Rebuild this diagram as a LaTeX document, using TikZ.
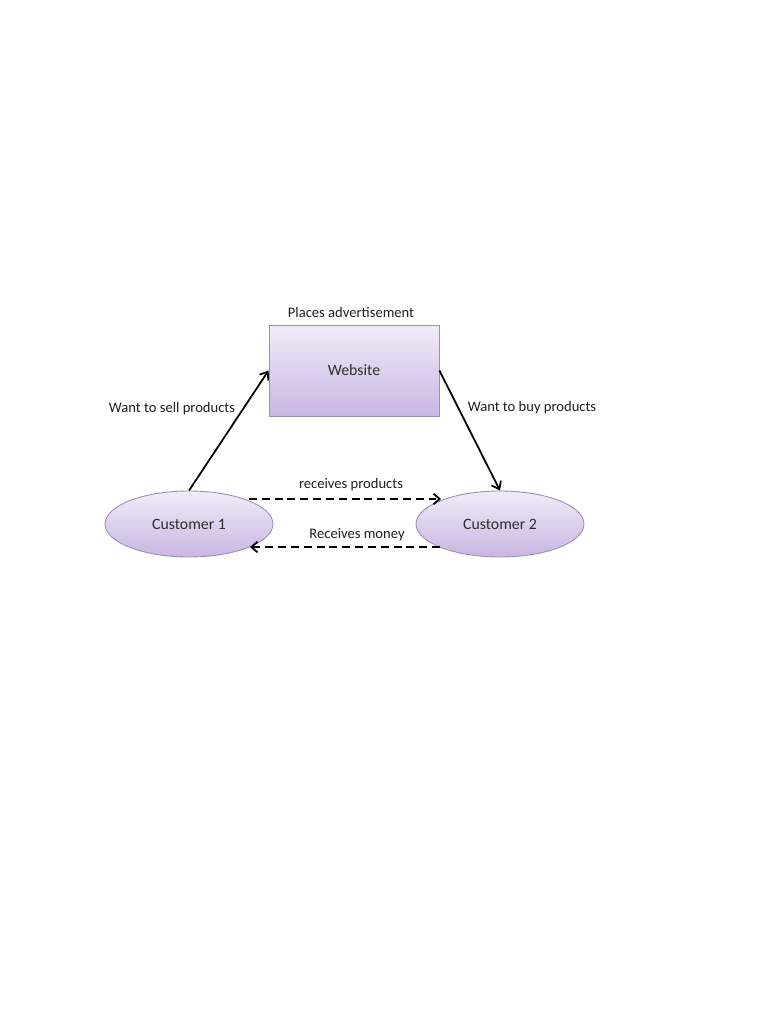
\documentclass[tikz,border=0pt]{standalone}
\usepackage{fontspec}
\setmainfont{Carlito}
\usetikzlibrary{arrows.meta,shapes.geometric}
\definecolor{edgepurple}{HTML}{9D8EB5}
\definecolor{fillTop}{HTML}{F1ECF8}
\definecolor{fillBot}{HTML}{C8B6E2}
\tikzset{
  lbl/.style={font=\fontsize{8.3}{10}\selectfont, text=black!88, inner sep=0pt},
  sitebox/.style={draw=edgepurple, line width=0.5pt, top color=fillTop, bottom color=fillBot,
    minimum width=3.4cm, minimum height=1.82cm, font=\fontsize{9}{11}\selectfont, text=black!82},
  custell/.style={ellipse, draw=edgepurple, line width=0.5pt, top color=fillTop, bottom color=fillBot,
    minimum width=3.36cm, minimum height=1.32cm, inner sep=0pt, font=\fontsize{9}{11}\selectfont, text=black!82},
  solidarrow/.style={line width=1pt, -{Straight Barb[length=4pt,width=6pt,line width=1pt]}},
  dasharrow/.style={line width=1.1pt, dash pattern=on 4.5pt off 2.8pt, -{Straight Barb[length=3.5pt,width=6pt,line width=1pt]}}
}
\begin{document}
\begin{tikzpicture}[x=0.02cm,y=-0.02cm]
\useasboundingbox (0,0) rectangle (768,1024);
\fill[white] (0,0) rectangle (768,1024);
\node[sitebox] (web) at (354,370.5) {Website};
\node[custell] (c1) at (189,524) {Customer 1};
\node[custell] (c2) at (500,524) {Customer 2};
\node[lbl] (pa) at (351,312) {Places advertisement};
\node[lbl] (ws) at (172,409) {Want to sell products};
\node[lbl] (wb) at (532,408) {Want to buy products};
\node[lbl] (rp) at (351,485) {receives products};
\node[lbl] (rm) at (357,535) {Receives money};
\coordinate (c1top) at (249,499);
\coordinate (c2top) at (441,499);
\coordinate (c1bot) at (250,547);
\coordinate (c2bot) at (440,547);
\draw[solidarrow] (c1.north) -- (web.west);
\draw[solidarrow] (web.east) -- (c2.north);
\draw[dasharrow] (c1top) -- (c2top);
\draw[dasharrow] (c2bot) -- (c1bot);
\end{tikzpicture}
\end{document}
